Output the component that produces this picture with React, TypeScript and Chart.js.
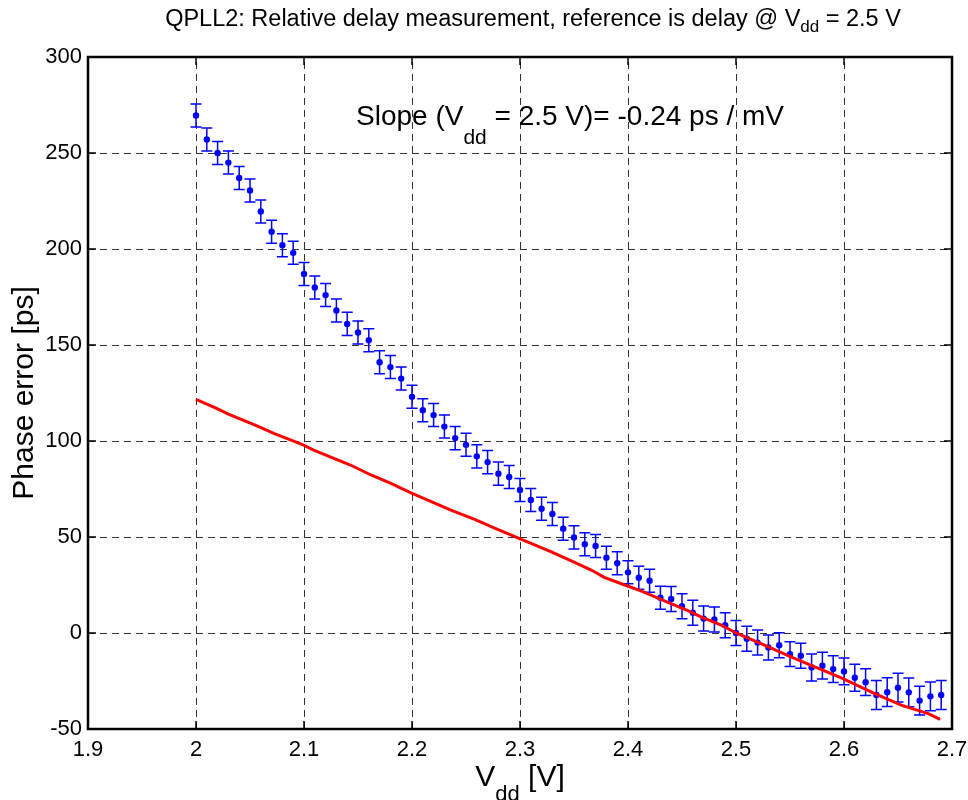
import { useEffect, useRef } from "react";
import { Chart, registerables } from "chart.js";

Chart.register(...registerables);

const vdd = [
  2.0, 2.01, 2.02, 2.03, 2.04, 2.05, 2.06, 2.07, 2.08, 2.09,
  2.1, 2.11, 2.12, 2.13, 2.14, 2.15, 2.16, 2.17, 2.18, 2.19,
  2.2, 2.21, 2.22, 2.23, 2.24, 2.25, 2.26, 2.27, 2.28, 2.29,
  2.3, 2.31, 2.32, 2.33, 2.34, 2.35, 2.36, 2.37, 2.38, 2.39,
  2.4, 2.41, 2.42, 2.43, 2.44, 2.45, 2.46, 2.47, 2.48, 2.49,
  2.5, 2.51, 2.52, 2.53, 2.54, 2.55, 2.56, 2.57, 2.58, 2.59,
  2.6, 2.61, 2.62, 2.63, 2.64, 2.65, 2.66, 2.67, 2.68, 2.69,
];

const phaseError = [
  269.5, 257, 250, 245, 237, 230.5, 219.5, 209, 202, 198,
  187, 180, 176, 168, 161, 156.5, 152.5, 141, 138.5, 132.5,
  123, 116, 113.5, 107.5, 101.5, 98, 92, 89, 83, 81.3,
  74.5, 69.3, 64.7, 62, 54.3, 49.8, 46.2, 45.3, 39.2, 36.3,
  31.6, 28.8, 27.2, 18.4, 17.7, 13.9, 10.6, 7.5, 7, 4,
  0, -3, -5, -7.5, -6.4, -11, -11.8, -18, -17, -18.8,
  -20, -23.3, -25.6, -32.3, -30.8, -28.5, -30.9, -35.2, -33, -32.3,
];

const errorHalf = [
  6, 6, 6, 6, 6, 6, 6, 6, 6, 6,
  6, 6, 6, 6, 6, 6, 6, 6, 6, 6,
  6, 6, 6, 6, 6, 6, 6, 6, 6, 6,
  6, 6, 6, 6, 6, 6, 6, 6, 6, 6,
  6, 6, 6, 6, 6.5, 6.5, 6.5, 6.5, 6.5, 6.5,
  6.5, 6.5, 6.5, 6.5, 6.5, 6.5, 6.5, 7, 7, 7,
  7, 7, 7, 7.5, 7.5, 7.5, 7.5, 7.5, 7.5, 7.5,
];

const simVdd = [
  2.0, 2.019, 2.03, 2.057, 2.072, 2.098, 2.109, 2.118, 2.143, 2.162,
  2.18, 2.199, 2.236, 2.258, 2.276, 2.298, 2.329, 2.347, 2.366, 2.378,
  2.397, 2.412, 2.437, 2.456, 2.468, 2.487, 2.5, 2.521, 2.553, 2.598,
  2.628, 2.653, 2.678, 2.689,
];

const simError = [
  121.7, 117, 114, 107.8, 104, 98.3, 95.3, 93.2, 87.5, 82.3,
  78, 73, 64, 59.2, 54.7, 49.6, 42.3, 37.7, 32.8, 29,
  25, 21.9, 16, 11.5, 8.3, 4, 0, -5, -13, -23.5,
  -31.4, -37.6, -42, -45,
];

const xTicks = [1.9, 2.0, 2.1, 2.2, 2.3, 2.4, 2.5, 2.6, 2.7];
const yTicks = [-50, 0, 50, 100, 150, 200, 250, 300];

const FONT = '"Liberation Sans", Arial, Helvetica, sans-serif';

type Part = { t: string; sub?: boolean };

function drawRich(
  ctx: CanvasRenderingContext2D,
  parts: Part[],
  x: number,
  baseline: number,
  size: number,
  subSize: number,
  subDrop: number,
  align: "left" | "center"
) {
  ctx.save();
  ctx.textAlign = "left";
  ctx.textBaseline = "alphabetic";
  ctx.fillStyle = "#000";
  const widths = parts.map((p) => {
    ctx.font = `${p.sub ? subSize : size}px ${FONT}`;
    return ctx.measureText(p.t).width;
  });
  const total = widths.reduce((a, b) => a + b, 0);
  let cx = align === "center" ? x - total / 2 : x;
  parts.forEach((p, i) => {
    ctx.font = `${p.sub ? subSize : size}px ${FONT}`;
    ctx.fillText(p.t, cx, baseline + (p.sub ? subDrop : 0));
    cx += widths[i];
  });
  ctx.restore();
}

const matlabPlugin = {
  id: "matlabFrame",
  beforeDatasetsDraw(chart: any) {
    const { ctx, chartArea: a, scales } = chart;
    const xs = scales.x;
    const ys = scales.y;
    ctx.save();
    ctx.strokeStyle = "rgba(0,0,0,0.8)";
    ctx.lineWidth = 1;
    ctx.setLineDash([7, 5]);
    xTicks.slice(1, -1).forEach((v) => {
      const px = Math.round(xs.getPixelForValue(v)) + 0.5;
      ctx.beginPath();
      ctx.moveTo(px, a.bottom);
      ctx.lineTo(px, a.top);
      ctx.stroke();
    });
    yTicks.slice(1, -1).forEach((v) => {
      const py = Math.round(ys.getPixelForValue(v)) + 0.5;
      ctx.beginPath();
      ctx.moveTo(a.left, py);
      ctx.lineTo(a.right, py);
      ctx.stroke();
    });
    ctx.setLineDash([]);
    // error bars
    ctx.strokeStyle = "#0000ff";
    ctx.lineWidth = 1.5;
    vdd.forEach((v, i) => {
      const px = xs.getPixelForValue(v);
      const top = ys.getPixelForValue(phaseError[i] + errorHalf[i]);
      const bot = ys.getPixelForValue(phaseError[i] - errorHalf[i]);
      const cap = 5.5;
      ctx.beginPath();
      ctx.moveTo(px, top);
      ctx.lineTo(px, bot);
      ctx.moveTo(px - cap, top);
      ctx.lineTo(px + cap, top);
      ctx.moveTo(px - cap, bot);
      ctx.lineTo(px + cap, bot);
      ctx.stroke();
    });
    ctx.restore();
  },
  afterDraw(chart: any) {
    const { ctx, chartArea: a, scales } = chart;
    const xs = scales.x;
    const ys = scales.y;
    ctx.save();
    ctx.strokeStyle = "#000";
    ctx.lineWidth = 1.5;
    const tl = 8;
    xTicks.forEach((v) => {
      const px = xs.getPixelForValue(v);
      ctx.beginPath();
      ctx.moveTo(px, a.bottom);
      ctx.lineTo(px, a.bottom - tl);
      ctx.moveTo(px, a.top);
      ctx.lineTo(px, a.top + tl);
      ctx.stroke();
    });
    yTicks.forEach((v) => {
      const py = ys.getPixelForValue(v);
      ctx.beginPath();
      ctx.moveTo(a.left, py);
      ctx.lineTo(a.left + tl, py);
      ctx.moveTo(a.right, py);
      ctx.lineTo(a.right - tl, py);
      ctx.stroke();
    });
    ctx.lineWidth = 2.5;
    ctx.strokeRect(a.left, a.top, a.right - a.left, a.bottom - a.top);
    ctx.restore();

    // title
    drawRich(
      ctx,
      [
        { t: "QPLL2: Relative delay measurement, reference is delay @ V" },
        { t: "dd", sub: true },
        { t: " = 2.5 V" },
      ],
      533,
      26,
      23.5,
      17,
      6,
      "center"
    );
    // annotation
    drawRich(
      ctx,
      [
        { t: "Slope (V" },
        { t: "dd", sub: true },
        { t: " = 2.5 V)= -0.24 ps / mV" },
      ],
      356,
      125,
      28,
      21,
      19,
      "left"
    );
    // x-axis title
    drawRich(
      ctx,
      [{ t: "V" }, { t: "dd", sub: true }, { t: " [V]" }],
      (a.left + a.right) / 2,
      786,
      30,
      22,
      15,
      "center"
    );
    // y-axis title
    ctx.save();
    ctx.translate(33, (a.top + a.bottom) / 2);
    ctx.rotate(-Math.PI / 2);
    drawRich(ctx, [{ t: "Phase error [ps]" }], 0, 0, 30, 22, 0, "center");
    ctx.restore();
  },
};

export default function App() {
  const ref = useRef<HTMLCanvasElement | null>(null);

  useEffect(() => {
    document.body.style.margin = "0";
    if (!ref.current) return;
    const chart = new Chart(ref.current, {
      type: "scatter",
      data: {
        datasets: [
          {
            label: "Simulation",
            type: "line",
            data: simVdd.map((v, i) => ({ x: v, y: simError[i] })),
            borderColor: "#ff0000",
            borderWidth: 3,
            pointRadius: 0,
            fill: false,
            tension: 0,
            order: 0,
          } as any,
          {
            label: "Measurement",
            data: vdd.map((v, i) => ({ x: v, y: phaseError[i] })),
            backgroundColor: "#0000ff",
            borderColor: "#0000ff",
            pointRadius: 3.2,
            pointBorderWidth: 0,
            showLine: false,
            order: 1,
          },
        ],
      },
      options: {
        animation: false,
        responsive: true,
        maintainAspectRatio: false,
        layout: { padding: { left: 0, right: 16, top: 57, bottom: 0 } },
        plugins: {
          legend: { display: false },
          title: { display: false },
          tooltip: { enabled: false },
        },
        scales: {
          x: {
            type: "linear",
            min: 1.9,
            max: 2.7,
            afterBuildTicks: (s: any) => {
              s.ticks = xTicks.map((v) => ({ value: v }));
            },
            afterFit: (s: any) => {
              s.height = 71;
            },
            ticks: {
              autoSkip: false,
              maxRotation: 0,
              padding: 0,
              color: "#000",
              font: { size: 22, family: FONT },
              callback: (v: any) => String(Math.round(Number(v) * 10) / 10),
            },
            grid: { display: false },
            border: { display: false },
          },
          y: {
            type: "linear",
            min: -50,
            max: 300,
            afterBuildTicks: (s: any) => {
              s.ticks = yTicks.map((v) => ({ value: v }));
            },
            afterFit: (s: any) => {
              s.width = 88;
            },
            ticks: {
              autoSkip: false,
              padding: -2,
              color: "#000",
              font: { size: 22, family: FONT },
            },
            grid: { display: false },
            border: { display: false },
          },
        },
      },
      plugins: [matlabPlugin],
    });
    return () => chart.destroy();
  }, []);

  return (
    <div style={{ width: 968, height: 800, position: "relative" }}>
      <canvas ref={ref} />
    </div>
  );
}
